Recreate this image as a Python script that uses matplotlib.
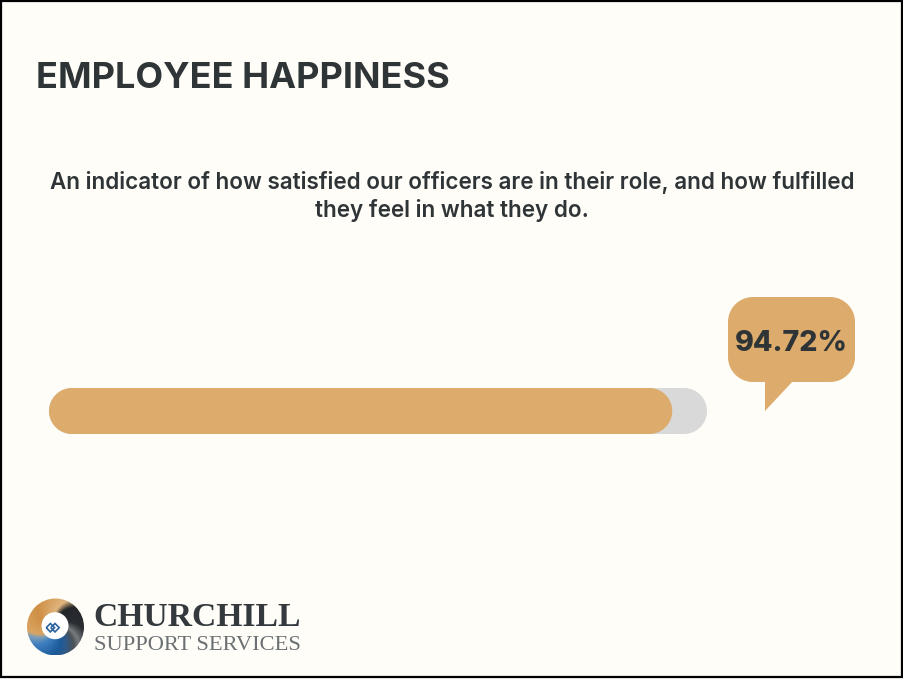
"""Employee happiness progress card, laid out in reference pixel coordinates."""
import numpy as np
import matplotlib
matplotlib.use("Agg")
import matplotlib.pyplot as plt
from matplotlib.colors import LinearSegmentedColormap
from matplotlib.patches import Circle, PathPatch, Polygon, Rectangle
from matplotlib.path import Path

TITLE = "EMPLOYEE HAPPINESS"
SUBTITLE_LINES = [
    "An indicator of how satisfied our officers are in their role, and how fulfilled",
    "they feel in what they do.",
]
VALUE = 94.72
VALUE_LABEL = "94.72%"
BRAND = "CHURCHILL"
BRAND_SUB = "SUPPORT SERVICES"

W, H = 904, 679
BG = "#fffdf8"
INK = "#2f3437"
TAN = "#ddac6c"
GREY = "#d9d9d9"
FONT = ["Inter", "DejaVu Sans"]
SERIF = ["Liberation Serif", "DejaVu Serif"]

fig = plt.figure(figsize=(W / 100, H / 100), dpi=100, facecolor=BG)
ax = fig.add_axes([0, 0, 1, 1])
ax.set_xlim(0, W)
ax.set_ylim(H, 0)
ax.axis("off")

# outer frame
ax.add_patch(Rectangle((1, 1), W - 2.5, H - 3, facecolor=BG, edgecolor="#000000", linewidth=1.6))

ax.text(36, 78, TITLE, fontsize=26, fontweight="bold", color=INK, family=FONT,
        ha="left", va="center")
ax.text(452, 183, SUBTITLE_LINES[0], fontsize=16.15, fontweight="semibold", color=INK,
        family=FONT, ha="center", va="center")
ax.text(452, 211, SUBTITLE_LINES[1], fontsize=16.15, fontweight="semibold", color=INK,
        family=FONT, ha="center", va="center")


def round_rect(x0, x1, y0, y1, r, color, zorder):
    # true circular corners; FancyBboxPatch corners come out too square
    pts = []
    corners = [(x1 - r, y0 + r, -90), (x1 - r, y1 - r, 0), (x0 + r, y1 - r, 90), (x0 + r, y0 + r, 180)]
    for cx_, cy_, start in corners:
        a = np.radians(np.linspace(start, start + 90, 24))
        pts.extend(zip(cx_ + r * np.cos(a), cy_ + r * np.sin(a)))
    ax.add_patch(Polygon(pts, closed=True, facecolor=color, edgecolor="none", zorder=zorder))


# progress bar: fill length follows the value
bar_x0, bar_x1 = 49, 707
round_rect(bar_x0, bar_x1, 388, 434, 23, GREY, 2)
round_rect(bar_x0, bar_x0 + (bar_x1 - bar_x0) * VALUE / 100, 388, 434, 23, TAN, 3)

# speech bubble
round_rect(728, 855, 297, 382, 25, TAN, 3)
ax.add_patch(Polygon([(765, 380), (765, 411), (794, 380)], closed=True,
                     facecolor=TAN, edgecolor="none", zorder=3))
ax.text(791.5, 343.5, VALUE_LABEL, fontsize=20.6, fontweight="heavy", color=INK, family=FONT,
        ha="center", va="center", zorder=4)

# logo: angular swirl of dark, blue and tan, clipped to a disc
cx, cy, rad = 55.5, 627, 28.5
swirl = LinearSegmentedColormap.from_list(
    "swirl",
    [(0.0, "#4a5258"), (0.06, "#2f5a8a"), (0.12, "#1c5a9a"), (0.25, "#3f7fc0"),
     (0.31, "#7fa0b8"), (0.34, "#d9a562"), (0.5, "#cf8f45"), (0.68, "#e0b57d"),
     (0.74, "#23272b"), (0.88, "#2a2e33"), (0.96, "#777b7d"), (1.0, "#4a5258")],
)
yy, xx = np.mgrid[-1:1:160j, -1:1:160j]
angle = (np.arctan2(yy, xx) / (2 * np.pi) - 0.14 * np.hypot(xx, yy)) % 1
swirl_im = ax.imshow(angle, cmap=swirl, extent=(cx - rad, cx + rad, cy + rad, cy - rad),
                     origin="upper", zorder=3, interpolation="bilinear")
swirl_im.set_clip_path(Circle((cx, cy), rad, transform=ax.transData))
ax.set_xlim(0, W)
ax.set_ylim(H, 0)
ax.set_aspect("auto")
ax.add_patch(Circle((55, 625.7), 13.5, facecolor="#ffffff", edgecolor="none", zorder=4))
for dx in (-2.3, 2.3):
    mx, my = 52.7 + dx, 627.7
    diamond = Path([(mx - 4.2, my), (mx, my - 4.2), (mx + 4.2, my), (mx, my + 4.2), (mx - 4.2, my)])
    ax.add_patch(PathPatch(diamond, facecolor="none", edgecolor="#2a63a0", linewidth=1.2, zorder=5))

ax.text(93, 618, BRAND, fontsize=24.2, fontweight="bold", color="#34393d", family=SERIF,
        ha="left", va="center")
ax.text(94, 645, BRAND_SUB, fontsize=16.2, color="#6b7073", family=SERIF,
        ha="left", va="center")

fig.savefig("out.png", dpi=100, facecolor=BG)
